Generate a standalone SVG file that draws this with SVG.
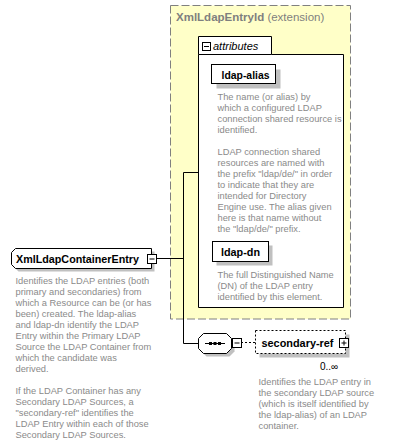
<svg xmlns="http://www.w3.org/2000/svg" width="401" height="444" viewBox="0 0 401 444">
<style>
.desc{font-family:"Liberation Sans",Arial,sans-serif;font-size:9.3px;fill:#8a8a8a}
.lbl{font-family:"Liberation Sans",Arial,sans-serif;font-size:11.5px;font-weight:bold;fill:#000}
.box{fill:#fff;stroke:#000;stroke-width:1}
.shadow{fill:#c0c0c0}
.line{stroke:#000;stroke-width:1;fill:none}
.pm{fill:#fff;stroke:#000;stroke-width:1}
</style>
<rect width="401" height="444" fill="#fff"/>
<g id="XmlLdapEntryId">
<rect x="170.5" y="5.5" width="180" height="313.5" fill="#ffffc8" stroke="#808080" stroke-dasharray="8,3"/>
<text x="176" y="21" font-family="Liberation Sans,Arial,sans-serif" font-size="11.5" fill="#7f7f7f"><tspan font-weight="bold">XmlLdapEntryId</tspan> (extension)</text>
</g>
<g id="attributes">
<path d="M198.5 54.5 V307.5 H343.5 V54.5 H271.5 V36.5 H198.5 Z" class="box"/>
<line x1="198.5" y1="54.5" x2="271.5" y2="54.5" stroke="#000"/>
<rect x="202.5" y="42.5" width="8" height="8" class="pm"/>
<line x1="204" y1="46.5" x2="209" y2="46.5" stroke="#000"/>
<text x="213" y="50" font-family="Liberation Sans,Arial,sans-serif" font-size="11" font-style="italic" fill="#000">attributes</text>
</g>
<g id="ldap-alias">
<rect x="216.5" y="69.5" width="64" height="19" class="shadow"/>
<rect x="211.5" y="64.5" width="64" height="19" class="box"/>
<text x="221.5" y="78.5" class="lbl" textLength="48" lengthAdjust="spacingAndGlyphs">ldap-alias</text>
<text class="desc" x="217.5">
<tspan x="217.5" y="100">The name (or alias) by</tspan>
<tspan x="217.5" y="111">which a configured LDAP</tspan>
<tspan x="217.5" y="122">connection shared resource is</tspan>
<tspan x="217.5" y="133">identified.</tspan>
<tspan x="217.5" y="155">LDAP connection shared</tspan>
<tspan x="217.5" y="166">resources are named with</tspan>
<tspan x="217.5" y="177">the prefix "ldap/de/" in order</tspan>
<tspan x="217.5" y="188">to indicate that they are</tspan>
<tspan x="217.5" y="199">intended for Directory</tspan>
<tspan x="217.5" y="210">Engine use. The alias given</tspan>
<tspan x="217.5" y="221">here is that name without</tspan>
<tspan x="217.5" y="232">the "ldap/de/" prefix.</tspan>
</text>
</g>
<g id="ldap-dn">
<rect x="216.5" y="245.5" width="56" height="20" class="shadow"/>
<rect x="212.5" y="241.5" width="56" height="20" class="box"/>
<text x="221" y="256" class="lbl" textLength="39" lengthAdjust="spacingAndGlyphs">ldap-dn</text>
<text class="desc">
<tspan x="217.5" y="277.5">The full Distinguished Name</tspan>
<tspan x="217.5" y="288.5">(DN) of the LDAP entry</tspan>
<tspan x="217.5" y="299.5">identified by this element.</tspan>
</text>
</g>
<g id="connectors">
<line x1="156.5" y1="258.5" x2="183.5" y2="258.5" class="line"/>
<line x1="183.5" y1="172.5" x2="183.5" y2="343.5" class="line"/>
<line x1="183.5" y1="172.5" x2="198.5" y2="172.5" class="line"/>
<line x1="183.5" y1="343.5" x2="198.5" y2="343.5" class="line"/>
<line x1="241" y1="342.5" x2="255" y2="342.5" class="line" stroke-dasharray="2,2"/>
</g>
<g id="XmlLdapContainerEntry">
<path d="M18.5 251.5 H154.5 V271.5 H18.5 L14.5 267.5 V255.5 Z" class="shadow"/>
<path d="M15.5 248.5 H151.5 V268.5 H15.5 L11.5 264.5 V252.5 Z" class="box"/>
<text x="16" y="262.5" class="lbl" textLength="123" lengthAdjust="spacingAndGlyphs">XmlLdapContainerEntry</text>
<rect x="147.5" y="254.5" width="9" height="9" class="pm"/>
<line x1="149.5" y1="259" x2="154.5" y2="259" stroke="#000"/>
<text class="desc">
<tspan x="15.5" y="284">Identifies the LDAP entries (both</tspan>
<tspan x="15.5" y="295">primary and secondaries) from</tspan>
<tspan x="15.5" y="306">which a Resource can be (or has</tspan>
<tspan x="15.5" y="317">been) created. The ldap-alias</tspan>
<tspan x="15.5" y="328">and ldap-dn identify the LDAP</tspan>
<tspan x="15.5" y="339">Entry within the Primary LDAP</tspan>
<tspan x="15.5" y="350">Source the LDAP Container from</tspan>
<tspan x="15.5" y="361">which the candidate was</tspan>
<tspan x="15.5" y="372">derived.</tspan>
<tspan x="15.5" y="394">If the LDAP Container has any</tspan>
<tspan x="15.5" y="405">Secondary LDAP Sources, a</tspan>
<tspan x="15.5" y="416">"secondary-ref" identifies the</tspan>
<tspan x="15.5" y="427">LDAP Entry within each of those</tspan>
<tspan x="15.5" y="438">Secondary LDAP Sources.</tspan>
</text>
</g>
<g id="sequence">
<path d="M206.5 336.5 H229.5 L234.5 341.5 V351.5 L229.5 356.5 H206.5 L201.5 351.5 V341.5 Z" class="shadow"/>
<path d="M203.5 333.5 H226.5 L231.5 338.5 V348.5 L226.5 353.5 H203.5 L198.5 348.5 V338.5 Z" class="box"/>
<line x1="205" y1="343.5" x2="225" y2="343.5" stroke="#000"/>
<rect x="209" y="342" width="3" height="3" fill="#000"/>
<rect x="213.5" y="342" width="3" height="3" fill="#000"/>
<rect x="218" y="342" width="3" height="3" fill="#000"/>
<rect x="232.5" y="338.5" width="9" height="9" class="pm"/>
<line x1="234.5" y1="343" x2="239.5" y2="343" stroke="#000"/>
</g>
<g id="secondary-ref">
<rect x="259.5" y="334.5" width="90" height="23" class="shadow"/>
<rect x="255.5" y="330.5" width="90" height="23" fill="#fff" stroke="#000" stroke-dasharray="2,2"/>
<text x="261.5" y="346.5" class="lbl" textLength="72" lengthAdjust="spacingAndGlyphs">secondary-ref</text>
<rect x="339.5" y="338.5" width="9" height="9" class="pm"/>
<line x1="341.5" y1="343" x2="346.5" y2="343" stroke="#000"/>
<line x1="344" y1="340.5" x2="344" y2="345.5" stroke="#000"/>
<text x="320" y="370" font-family="Liberation Sans,Arial,sans-serif" font-size="10" fill="#000">0..∞</text>
<text class="desc">
<tspan x="258.5" y="384.5">Identifies the LDAP entry in</tspan>
<tspan x="258.5" y="395.5">the secondary LDAP source</tspan>
<tspan x="258.5" y="406.5">(which is itself identified by</tspan>
<tspan x="258.5" y="417.5">the ldap-alias) of an LDAP</tspan>
<tspan x="258.5" y="428.5">container.</tspan>
</text>
</g>
</svg>
